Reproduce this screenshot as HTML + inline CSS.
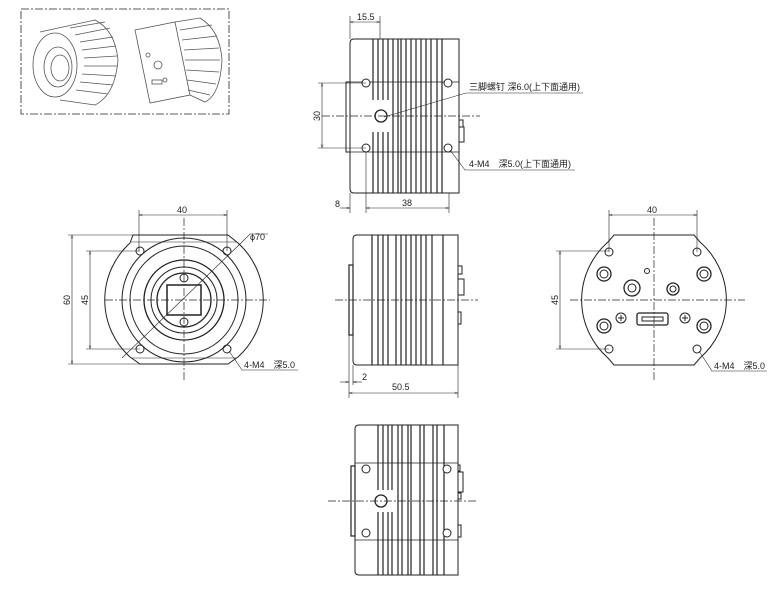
<!DOCTYPE html>
<html><head><meta charset="utf-8"><style>
html,body{margin:0;padding:0;background:#fff;}
svg{display:block;}
text{font-family:"Liberation Sans","Noto Sans CJK JP",sans-serif;font-size:9px;fill:#222;stroke:none;}
</style></head><body>
<svg width="782" height="591" viewBox="0 0 782 591" xmlns="http://www.w3.org/2000/svg" stroke="#222" fill="none" stroke-width="1">
<defs>
<marker id="a" viewBox="0 0 10 10" refX="10" refY="5" markerWidth="6" markerHeight="6" orient="auto-start-reverse"><path d="M0,2L10,5L0,8" fill="none" stroke="#222"/></marker>
</defs>
<rect x="21" y="9" width="208" height="105" stroke-dasharray="8,2,2,2" stroke-width="0.8"/>
<g stroke="#555" stroke-width="0.8">
<ellipse cx="55" cy="65" rx="22" ry="32"/><ellipse cx="58" cy="67" rx="14" ry="20"/><ellipse cx="60" cy="68" rx="9" ry="13"/>
<path d="M40,32 L95,20 Q115,30 118,60 Q115,95 95,105 L60,100"/>
<path d="M70,28 L105,22 M75,35 L110,28 M80,42 L113,37 M82,50 L116,46 M84,58 L117,56 M84,66 L117,66 M82,74 L116,76 M80,82 L113,85 M76,90 L108,94"/>
<path d="M135,30 L175,22 L190,95 L150,103 Z"/>
<path d="M175,22 L200,18 Q220,30 222,60 Q220,95 205,102 L190,95"/>
<path d="M180,30 L212,25 M182,40 L217,36 M184,50 L219,48 M185,60 L220,60 M186,70 L219,72 M187,80 L216,84 M188,90 L210,95"/>
<circle cx="158" cy="65" r="4"/><circle cx="148" cy="55" r="2"/><circle cx="165" cy="80" r="2"/><rect x="152" y="80" width="10" height="4"/>
</g>
<!-- TOP VIEW -->
<path d="M354,39 H459 V193 H354 Q350,193 350,189 V43 Q350,39 354,39 Z"/>
<rect x="346" y="82" width="4" height="70"/>
<g stroke-width="1.2">
<path d="M373,39V100 M378,39V100 M373,132V193 M378,132V193 M383,39V100 M388,39V100 M383,132V193 M388,132V193"/>
<path d="M393,39V193 M398,39V193 M401,39V193 M406,39V193 M411,39V193 M416,39V193 M421,39V193 M426,39V193 M431,39V193 M437,39V193 M442,39V193"/>
</g>
<path d="M350,82H459 M350,152H459" stroke-width="0.7"/>
<circle cx="366" cy="83" r="4" fill="#fff"/><circle cx="448" cy="83" r="4" fill="#fff"/><circle cx="366" cy="148" r="4" fill="#fff"/><circle cx="448" cy="148" r="4" fill="#fff"/>
<circle cx="381" cy="116" r="6" fill="#fff" stroke-width="1.3"/>
<rect x="459" y="120" width="4" height="7"/><rect x="459" y="127" width="5" height="15"/>
<path d="M322,116H480" stroke-dasharray="8,2,2,2" stroke-width="0.7"/>
<path d="M318,83H366 M318,148H366" stroke-width="0.6"/>
<path d="M322,83V148" marker-start="url(#a)" marker-end="url(#a)" stroke-width="0.6"/>
<text x="320" y="116" transform="rotate(-90 320 116)" text-anchor="middle">30</text>
<path d="M350,16V39 M380,16V39" stroke-width="0.6"/>
<path d="M350,22H380" marker-start="url(#a)" marker-end="url(#a)" stroke-width="0.6"/>
<text x="357" y="20">15.5</text>
<path d="M350,193V213 M366,152V213 M449,193V213" stroke-width="0.6"/>
<path d="M340,208H350" marker-end="url(#a)" stroke-width="0.6"/>
<path d="M366,208H449" marker-start="url(#a)" marker-end="url(#a)" stroke-width="0.6"/>
<text x="335" y="207">8</text><text x="402" y="206">38</text>
<path d="M384,117L466,93H583 M450,150L465,170H575" stroke-width="0.6"/>
<text x="469" y="90" font-size="8.5">三脚螺钉 深6.0(上下面通用)</text>
<text x="469" y="167" font-size="8.5">4-M4　深5.0(上下面通用)</text>
<!-- FRONT VIEW -->
<g>
<path d="M133,235 L228,235 L238,243 A77,77 0 0 1 238,357 L228,364 L140,364 L130,357 A77,77 0 0 1 130,243 Z"/>
<path d="M131,242 H237 M131,358 H237" stroke-width="0.6"/>
<circle cx="184" cy="300" r="62"/><circle cx="184" cy="300" r="54"/>
<circle cx="184" cy="300" r="40" stroke-width="1.3"/><circle cx="184" cy="300" r="33"/><circle cx="184" cy="300" r="27" stroke-width="1.3"/>
<rect x="167" y="285" width="34" height="30" stroke-width="1.5"/>
<circle cx="184" cy="278" r="4"/><circle cx="184" cy="322" r="4"/>
<circle cx="140" cy="251" r="4"/><circle cx="227" cy="251" r="4"/><circle cx="140" cy="349" r="4"/><circle cx="227" cy="349" r="4"/>
<path d="M184,218V382 M105,300H270" stroke-dasharray="8,2,2,2" stroke-width="0.7"/>
<path d="M122,358L242,242 L250,234H268" stroke-width="0.6"/>
<text x="250" y="240">ϕ70</text>
<path d="M139,210V251 M227,210V251" stroke-width="0.6"/>
<path d="M139,215H227" marker-start="url(#a)" marker-end="url(#a)" stroke-width="0.6"/>
<text x="177" y="213">40</text>
<path d="M68,235H140 M68,364H140 M86,251H140 M86,349H140" stroke-width="0.6"/>
<path d="M72,235V364" marker-start="url(#a)" marker-end="url(#a)" stroke-width="0.6"/>
<path d="M90,251V349" marker-start="url(#a)" marker-end="url(#a)" stroke-width="0.6"/>
<text x="70" y="300" transform="rotate(-90 70 300)" text-anchor="middle">60</text>
<text x="88" y="300" transform="rotate(-90 88 300)" text-anchor="middle">45</text>
<path d="M229,351L242,370H298" stroke-width="0.6"/>
<text x="244" y="368" font-size="8.5">4-M4　深5.0</text>
</g>
<!-- SIDE VIEW -->
<path d="M357,235H458V365H357Q353,365 353,361V239Q353,235 357,235Z"/>
<rect x="349" y="265" width="4" height="70" stroke-width="1.2"/>
<g stroke-width="1.2">
<path d="M372,235V365 M378,235V365 M383,235V365 M388,235V365 M396,235V365 M401,235V365 M406,235V365 M411,235V365 M416,235V365 M421,235V365 M426,235V365 M432,235V365 M443,235V365"/>
</g>
<rect x="458" y="266" width="4" height="8"/><rect x="458" y="279" width="6" height="16"/><rect x="458" y="312" width="3" height="12"/>
<path d="M335,300H478" stroke-dasharray="8,2,2,2" stroke-width="0.7"/>
<path d="M349,335V398 M353,365V385 M458,365V398" stroke-width="0.6"/>
<path d="M340,382H349" marker-end="url(#a)" stroke-width="0.6"/>
<path d="M362,382H353" marker-end="url(#a)" stroke-width="0.6"/>
<text x="362" y="380">2</text>
<path d="M349,393H458" marker-start="url(#a)" marker-end="url(#a)" stroke-width="0.6"/>
<text x="392" y="390">50.5</text>
<!-- BACK VIEW -->
<g>
<path d="M614,235H694L700,242A77,77 0 0 1 700,358L694,365H614L608,358A77,77 0 0 1 608,242Z"/>
<circle cx="609" cy="252" r="4"/><circle cx="697" cy="252" r="4"/><circle cx="609" cy="349" r="4"/><circle cx="697" cy="349" r="4"/>
<circle cx="604" cy="274" r="7" stroke-width="1.3"/><circle cx="604" cy="274" r="4"/>
<circle cx="704" cy="274" r="7" stroke-width="1.3"/><circle cx="704" cy="274" r="4"/>
<circle cx="604" cy="326" r="7" stroke-width="1.3"/><circle cx="604" cy="326" r="4"/>
<circle cx="704" cy="326" r="7" stroke-width="1.3"/><circle cx="704" cy="326" r="4"/>
<circle cx="632" cy="288" r="8" stroke-width="1.3"/><circle cx="632" cy="288" r="4"/>
<circle cx="673" cy="289" r="6" stroke-width="1.3"/><circle cx="673" cy="289" r="3"/>
<circle cx="647" cy="271" r="2.5"/>
<rect x="637" y="313" width="31" height="12" rx="2" stroke-width="1.3"/><rect x="642" y="317" width="21" height="4"/>
<circle cx="621" cy="318" r="5"/><path d="M618,318H624M621,315V321"/>
<circle cx="685" cy="318" r="5"/><path d="M682,318H688M685,315V321"/>
<path d="M654,218V382 M570,300H745" stroke-dasharray="8,2,2,2" stroke-width="0.7"/>
<path d="M609,210V252 M697,210V252" stroke-width="0.6"/>
<path d="M609,215H697" marker-start="url(#a)" marker-end="url(#a)" stroke-width="0.6"/>
<text x="647" y="213">40</text>
<path d="M556,251H609 M556,349H609" stroke-width="0.6"/>
<path d="M560,251V349" marker-start="url(#a)" marker-end="url(#a)" stroke-width="0.6"/>
<text x="558" y="300" transform="rotate(-90 558 300)" text-anchor="middle">45</text>
<path d="M699,351L712,371H767" stroke-width="0.6"/>
<text x="714" y="369" font-size="8.5">4-M4　深5.0</text>
</g>
<!-- BOTTOM VIEW -->
<path d="M359,425H458V575H359Q355,575 355,571V429Q355,425 359,425Z"/>
<rect x="351" y="466" width="4" height="70" stroke-width="1.2"/>
<g stroke-width="1.2">
<path d="M378,425V490 M383,425V490 M378,512V575 M383,512V575 M388,425V490 M392,425V490 M388,512V575 M392,512V575"/>
<path d="M398,425V575 M402,425V575 M408,425V575 M411,425V575 M420,425V575 M424,425V575 M433,425V575 M437,425V575 M444,425V575"/>
</g>
<path d="M355,463H458 M355,540H458" stroke-width="0.7"/>
<circle cx="366" cy="469" r="4" fill="#fff"/><circle cx="447" cy="469" r="4" fill="#fff"/><circle cx="366" cy="533" r="4" fill="#fff"/><circle cx="447" cy="533" r="4" fill="#fff"/>
<circle cx="381" cy="501" r="6" fill="#fff" stroke-width="1.3"/>
<rect x="458" y="465" width="2" height="6"/><rect x="458" y="472" width="5" height="20"/><rect x="458" y="493" width="3" height="6"/><rect x="458" y="525" width="3" height="12"/>
<path d="M328,501H478" stroke-dasharray="8,2,2,2" stroke-width="0.7"/>
</svg>
</body></html>
